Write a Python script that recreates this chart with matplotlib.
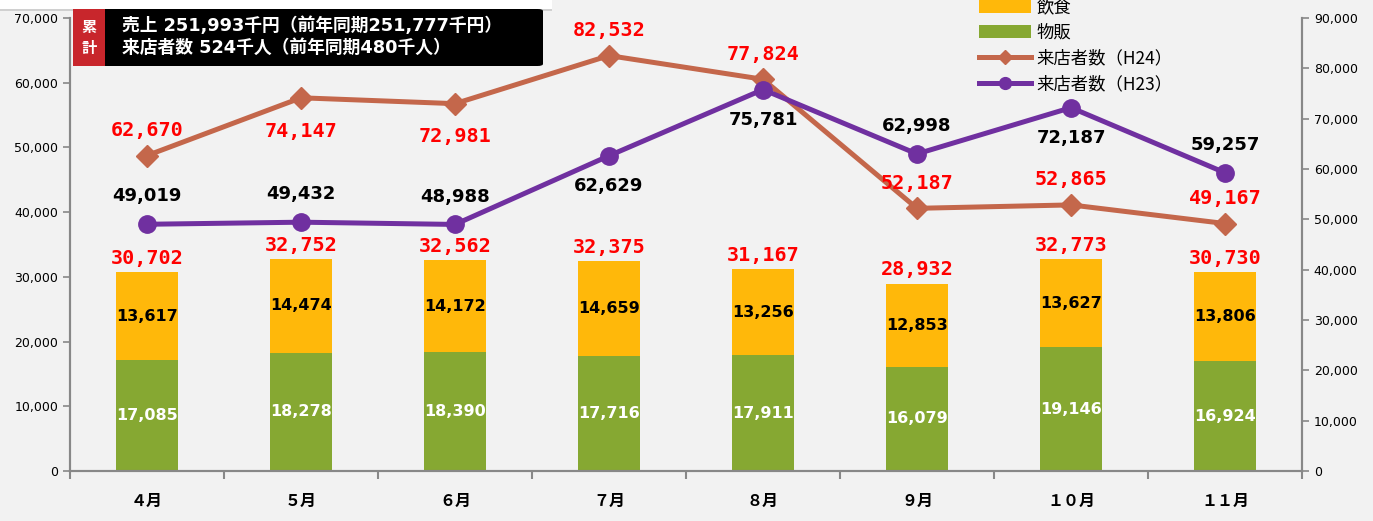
import numpy as np
import matplotlib
matplotlib.use("Agg")
import matplotlib.pyplot as plt
from matplotlib.patches import FancyBboxPatch, Rectangle
from matplotlib.lines import Line2D

# 数字はDejaVu、漢字はNoto CJK
plt.rcParams['font.family'] = ['DejaVu Sans', 'Noto Sans CJK JP']

# データ
months = ["４月", "５月", "６月", "７月", "８月", "９月", "１０月", "１１月"]
buppan = [17085, 18278, 18390, 17716, 17911, 16079, 19146, 16924]   # 物販
inshoku = [13617, 14474, 14172, 14659, 13256, 12853, 13627, 13806]  # 飲食
totals = [30702, 32752, 32562, 32375, 31167, 28932, 32773, 30730]
visitors_h24 = [62670, 74147, 72981, 82532, 77824, 52187, 52865, 49167]
visitors_h23 = [49019, 49432, 48988, 62629, 75781, 62998, 72187, 59257]
h24_label_pos = ["up", "down", "down", "up", "up", "up", "up", "up"]
h23_label_pos = ["up", "up", "up", "down", "down", "up", "down", "up"]

W, H = 1373, 521
fig = plt.figure(figsize=(W / 100, H / 100), dpi=100, facecolor="#f2f2f2")
ax = fig.add_axes([70 / W, 1 - 471 / H, (1302 - 70) / W, (471 - 18) / H])
ax.set_facecolor("#f2f2f2")

# 上部の白い帯
fig.patches.append(Rectangle((0, 1 - 9 / H), 552 / W, 9 / H, transform=fig.transFigure,
                             facecolor="white", edgecolor="none", zorder=0))
fig.patches.append(Rectangle((0, 1 - 11 / H), 552 / W, 2 / H, transform=fig.transFigure,
                             facecolor="#d0d0d0", edgecolor="none", zorder=0))

x = np.arange(len(months))
bw = 0.4
c_green = "#86a832"
c_orange = "#ffb80a"
ax.bar(x, buppan, bw, color=c_green, zorder=2)
ax.bar(x, inshoku, bw, bottom=buppan, color=c_orange, zorder=2)

for i in range(len(months)):
    ax.text(x[i], buppan[i] / 2, f"{buppan[i]:,}", ha="center", va="center",
            color="white", fontsize=11.5, fontweight="bold", zorder=5)
    ax.text(x[i], buppan[i] + inshoku[i] / 2, f"{inshoku[i]:,}", ha="center", va="center",
            color="black", fontsize=11.5, fontweight="bold", zorder=5)
    ax.annotate(f"{totals[i]:,}", (x[i], totals[i]), xytext=(0, 10), textcoords="offset points",
                ha="center", va="center", color="red", fontsize=14.5, fontweight="bold",
                family="DejaVu Sans Mono", zorder=5)

ax.set_xlim(-0.5, len(months) - 0.5)
ax.set_ylim(0, 70000)
ax.set_yticks(np.arange(0, 70001, 10000))
ax.yaxis.set_major_formatter(matplotlib.ticker.FuncFormatter(lambda v, p: f"{int(v):,}"))
ax.set_xticks(x)
ax.set_xticklabels(months, fontsize=11.5, fontweight="bold", family="Noto Sans CJK JP")
ax.set_xticks(np.arange(-0.5, len(months)), minor=True)
ax.tick_params(axis="x", which="major", length=0, pad=16)
ax.tick_params(axis="x", which="minor", length=6, color="#888888", width=1.5, direction="out")
ax.tick_params(axis="y", labelsize=9, length=5, color="#888888", width=1.2)

# 右軸
ax2 = ax.twinx()
ax2.set_ylim(0, 90000)
ax2.set_yticks(np.arange(0, 90001, 10000))
ax2.yaxis.set_major_formatter(matplotlib.ticker.FuncFormatter(lambda v, p: f"{int(v):,}"))
ax2.tick_params(axis="y", labelsize=9, length=5, color="#888888", width=1.2)

c_h24 = "#c4674b"
c_h23 = "#7030a0"
ax2.plot(x, visitors_h24, color=c_h24, lw=3.6, marker="D", ms=11, zorder=3)
ax2.plot(x, visitors_h23, color=c_h23, lw=3.6, marker="o", ms=12.5, zorder=3)

for i in range(len(months)):
    dy = 18 if h24_label_pos[i] == "up" else -24
    ax2.annotate(f"{visitors_h24[i]:,}", (x[i], visitors_h24[i]), xytext=(0, dy),
                 textcoords="offset points", ha="center", va="center", color="red",
                 fontsize=14.5, fontweight="bold", family="DejaVu Sans Mono", zorder=6)
    dy = 20 if h23_label_pos[i] == "up" else -22
    ax2.annotate(f"{visitors_h23[i]:,}", (x[i], visitors_h23[i]), xytext=(0, dy),
                 textcoords="offset points", ha="center", va="center", color="black",
                 fontsize=13, fontweight="bold", zorder=6)

for a in (ax, ax2):
    a.spines["top"].set_visible(False)
    for s in ("left", "right", "bottom"):
        a.spines[s].set_color("#888888")
        a.spines[s].set_linewidth(1.5)

# 凡例
handles = [
    Rectangle((0, 0), 1, 1, facecolor=c_orange),
    Rectangle((0, 0), 1, 1, facecolor=c_green),
    Line2D([], [], color=c_h24, lw=3.6, marker="D", ms=7),
    Line2D([], [], color=c_h23, lw=3.6, marker="o", ms=8.5),
]
labels = ["飲食", "物販", "来店者数（H24）", "来店者数（H23）"]
fig.legend(handles, labels, loc="upper left", bbox_to_anchor=(972 / W, 1 + 9 / H),
           frameon=False, handlelength=3.0, handleheight=0.8,
           labelspacing=0.45, handletextpad=0.3, borderaxespad=0,
           prop={"family": "Noto Sans CJK JP", "size": 12.5})

# 累計ボックス
fig.patches.append(FancyBboxPatch((73 / W, 1 - 66 / H), (543 - 73) / W, (66 - 9) / H,
                                  boxstyle="round,pad=0,rounding_size=0.004",
                                  transform=fig.transFigure, facecolor="black",
                                  edgecolor="none", zorder=8))
fig.patches.append(Rectangle((73 / W, 1 - 66 / H), (105 - 73) / W, (66 - 9) / H,
                             transform=fig.transFigure, facecolor="#c8262c",
                             edgecolor="none", zorder=9))
fig.text(89 / W, 1 - 27 / H, "累", color="white", fontsize=11, fontweight="bold",
         ha="center", va="center", zorder=10, family="Noto Sans CJK JP")
fig.text(89 / W, 1 - 48 / H, "計", color="white", fontsize=11, fontweight="bold",
         ha="center", va="center", zorder=10, family="Noto Sans CJK JP")
fig.text(122 / W, 1 - 26 / H, "売上 251,993千円（前年同期251,777千円）", color="white",
         fontsize=12.8, fontweight="bold", ha="left", va="center", zorder=10)
fig.text(122 / W, 1 - 48 / H, "来店者数 524千人（前年同期480千人）", color="white",
         fontsize=12.8, fontweight="bold", ha="left", va="center", zorder=10)

fig.savefig("out.png", dpi=100, facecolor=fig.get_facecolor())
